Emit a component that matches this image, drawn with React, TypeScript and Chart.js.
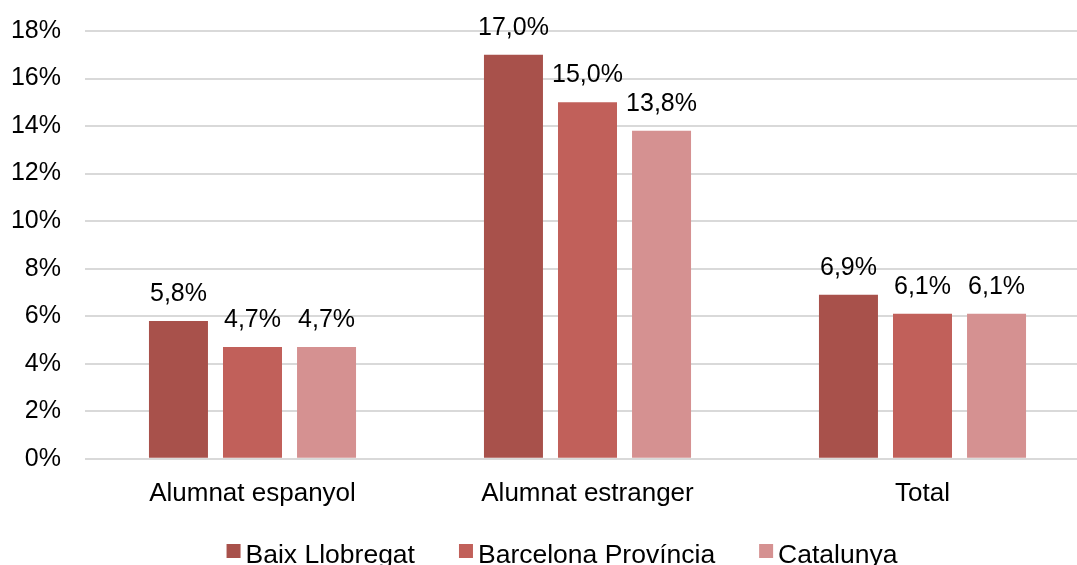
import React, { useEffect, useRef } from "react";
import { Chart, registerables } from "chart.js";

Chart.register(...registerables);

const categories = ["Alumnat espanyol", "Alumnat estranger", "Total"];
const seriesNames = ["Baix Llobregat", "Barcelona Província", "Catalunya"];
const baixLlobregat = [5.8, 17.0, 6.9];
const barcelonaProvincia = [4.7, 15.0, 6.1];
const catalunya = [4.7, 13.8, 6.1];
const colors = ["#A8514B", "#C1605A", "#D59191"];
const FONT = "'Liberation Sans', Arial, sans-serif";

const fmt = (v: number) => v.toFixed(1).replace(".", ",") + "%";

const labelPlugin = {
  id: "barLabels",
  afterDatasetsDraw(chart: any) {
    const ctx = chart.ctx;
    ctx.save();
    ctx.font = `25px ${FONT}`;
    ctx.fillStyle = "#000";
    ctx.textAlign = "center";
    ctx.textBaseline = "alphabetic";
    chart.data.datasets.forEach((ds: any, i: number) => {
      const meta = chart.getDatasetMeta(i);
      meta.data.forEach((bar: any, j: number) => {
        ctx.fillText(fmt(ds.data[j]), bar.x, bar.y - 20);
      });
    });
    ctx.restore();
  },
};

const legendPlugin = {
  id: "customLegend",
  afterDraw(chart: any) {
    const ctx = chart.ctx;
    ctx.save();
    ctx.font = `26.5px ${FONT}`;
    ctx.textBaseline = "alphabetic";
    ctx.textAlign = "left";
    const box = 14;
    const gapText = 5;
    const gapItem = 44;
    const items = chart.data.datasets.map((ds: any) => ({
      label: ds.label,
      color: ds.backgroundColor,
      w: box + gapText + ctx.measureText(ds.label).width,
    }));
    const total = items.reduce((s: number, it: any) => s + it.w, 0) + gapItem * (items.length - 1);
    let x = chart.width / 2 - total / 2;
    const boxTop = 544;
    const baseline = 563;
    items.forEach((it: any) => {
      ctx.fillStyle = it.color;
      ctx.fillRect(x, boxTop, box, box);
      ctx.fillStyle = "#000";
      ctx.fillText(it.label, x + box + gapText, baseline);
      x += it.w + gapItem;
    });
    ctx.restore();
  },
};

export default function App() {
  const ref = useRef<HTMLCanvasElement>(null);
  useEffect(() => {
    const data = [baixLlobregat, barcelonaProvincia, catalunya];
    const chart = new Chart(ref.current!, {
      type: "bar",
      data: {
        labels: categories,
        datasets: seriesNames.map((n, i) => ({
          label: n,
          data: data[i],
          backgroundColor: colors[i],
          categoryPercentage: 0.663,
          barPercentage: 0.797,
        })),
      },
      options: {
        animation: false,
        responsive: false,
        maintainAspectRatio: false,
        layout: { padding: { left: 10, right: 34, top: 31, bottom: 60 } },
        plugins: {
          legend: { display: false },
          tooltip: { enabled: false },
        },
        scales: {
          x: {
            grid: { display: false },
            border: { display: false },
            ticks: { font: { family: FONT, size: 26 }, color: "#000", padding: 11 },
          },
          y: {
            min: 0,
            max: 18,
            border: { display: false },
            grid: { color: "#D9D9D9", lineWidth: 2, drawTicks: false },
            afterFit: (scale: any) => {
              scale.width = 75;
              scale.paddingTop = 0;
              scale.paddingBottom = 0;
            },
            ticks: {
              stepSize: 2,
              font: { family: FONT, size: 25 },
              color: "#000",
              padding: 24,
              callback: (v: any) => v + "%",
            },
          },
        },
      },
      plugins: [labelPlugin, legendPlugin],
    });
    return () => chart.destroy();
  }, []);
  return (
    <div style={{ position: "absolute", left: 0, top: 0, width: 1077, height: 565, overflow: "hidden", background: "#fff" }}>
      <canvas ref={ref} width={1124} height={580} style={{ width: 1124, height: 580, display: "block" }} />
    </div>
  );
}
